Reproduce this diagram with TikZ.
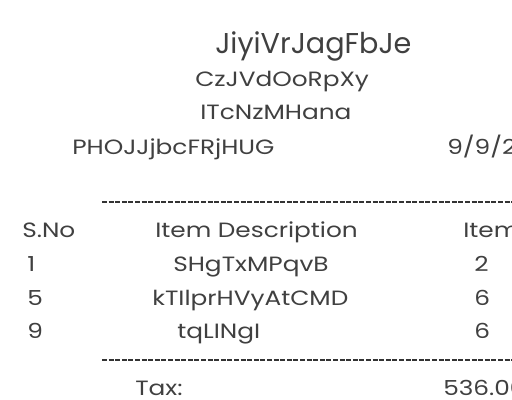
\documentclass[tikz,border=0pt]{standalone}
\usepackage{fontspec}
\setmainfont{Poppins}[FakeStretch=1.2]
\newfontfamily\titlefont{Poppins}
\tikzset{every picture/.append style={x=0.75pt, y=-0.75pt}}
\tikzset{
    every node/.style={anchor=base west, inner sep=0pt, text=black!75,
    	font=\fontsize{15.5}{18}\selectfont}
}
\tikzset{rule/.style={line width=0.9pt, draw=black!80, dash pattern=on 3.75pt off 1.2pt}}

\begin{document}
\begin{tikzpicture}
	\useasboundingbox (0,0) rectangle (512,400);
	\clip (0,0) rectangle (512,400);
	\node (1) [font=\titlefont\fontsize{21.5}{24}\selectfont] at (215, 53) {JiyiVrJagFbJe};
	\node (2) at (195, 86) {CzJVdOoRpXy};
	\node (3) at (200, 119) {ITcNzMHana};
	\node (4) at (72, 154) {PHOJJjbcFRjHUG};
	\node (5) at (447, 154) {9/9/2023};
	
	\coordinate (r1a) at (102, 202); \coordinate (r1b) at (530, 202);
	\draw [rule] (r1a) -- (r1b);
	
	\node (6) at (22, 237) {S.No};
	\node (7) at (155, 237) {Item Description};
	\node (8) at (463, 237) {Item Qty};
	
	\node (9) at (27, 271) {1};
	\node (10) at (173, 271) {SHgTxMPqvB};
	\node (11) at (474, 271) {2};
	\node (12) at (27, 305) {5};
	\node (13) at (152, 305) {kTIlprHVyAtCMD};
	\node (14) at (474, 305) {6};
	\node (15) at (27, 338) {9};
	\node (16) at (177, 338) {tqLINgI};
	\node (17) at (474, 338) {6};
	
	\coordinate (r2a) at (102, 360); \coordinate (r2b) at (530, 360);
	\draw [rule] (r2a) -- (r2b);
	
	\node (18) at (135, 395) {Tax:};
	\node (19) at (443, 395) {536.00};
\end{tikzpicture}
\end{document}
